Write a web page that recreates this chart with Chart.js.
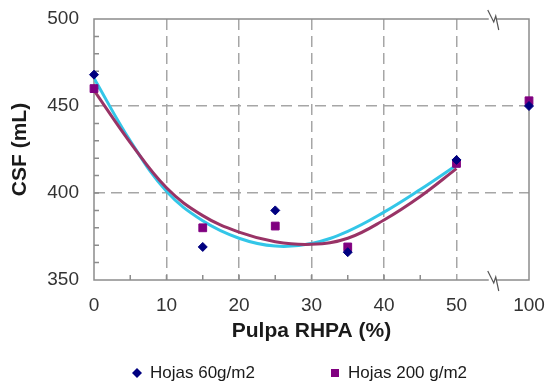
<!DOCTYPE html>
<html>
<head>
<meta charset="utf-8">
<script src="https://cdn.jsdelivr.net/npm/chart.js@4"></script>
<style>
html, body { margin: 0; padding: 0; background: #fff; }
#wrap { width: 552px; height: 384px; }
</style>
</head>
<body>
<div id="wrap"><canvas id="chart" width="552" height="384"></canvas></div>
<script>
// measured points
const pulpa = [0, 15, 25, 35, 50, 100];
const hojas60 = [468, 369, 390, 366, 419, 450];
const hojas200 = [460, 380, 381, 369, 417, 453];

// trend curves (0-50 only)
const trendX = [0, 5, 10, 15, 20, 25, 30, 35, 40, 45, 50];
const trend60 = [466, 430, 401, 384, 374, 369.5, 371, 378, 389, 402, 416];
const trend200 = [459, 429, 403, 387, 377.5, 372, 370.5, 374, 384.5, 398, 414];

const xTicks = [0, 10, 20, 30, 40, 50, 100];

// axis is broken between 50 and 100: 100 sits one step after 50
const BREAK_AT = 50;
const BREAK_POS = 60;
const axisPos = x => x > BREAK_AT ? BREAK_POS : x;

const font = "'Liberation Sans', Arial, sans-serif";
const gridGrey = "#a6a6a6";
const frameGrey = "#8c8c8c";

const pts = (xs, ys) => xs.map((x, i) => ({x: axisPos(x), y: ys[i]}));

const frame = {
  id: "frame",
  beforeDatasetsDraw(chart) {
    const {ctx, chartArea: a, scales: {x, y}} = chart;
    ctx.save();
    ctx.strokeStyle = frameGrey;
    ctx.lineWidth = 1.5;
    ctx.strokeRect(a.left, a.top, a.right - a.left, a.bottom - a.top);
    // short inside ticks
    ctx.beginPath();
    for (let v = 5; v < BREAK_AT; v += 5) {
      const px = x.getPixelForValue(v);
      ctx.moveTo(px, a.bottom);
      ctx.lineTo(px, a.bottom - 5);
    }
    for (let v = 360; v < 500; v += 10) {
      const py = y.getPixelForValue(v);
      ctx.moveTo(a.left, py);
      ctx.lineTo(a.left + 5, py);
    }
    ctx.stroke();
    // break marks on top and bottom edges
    const bx = x.getPixelForValue(55);
    [a.top, a.bottom].forEach(by => {
      ctx.fillStyle = "#fff";
      ctx.fillRect(bx - 4, by - 2, 8, 4);
      ctx.strokeStyle = "#555";
      ctx.lineWidth = 1.2;
      ctx.beginPath();
      ctx.moveTo(bx - 5, by - 9);
      ctx.lineTo(bx + 1, by + 3);
      ctx.lineTo(bx + 3, by - 3);
      ctx.lineTo(bx + 6, by + 11);
      ctx.stroke();
    });
    ctx.restore();
  },
  afterDraw(chart) {
    // legend
    const ctx = chart.ctx;
    ctx.save();
    ctx.font = "17px " + font;
    ctx.textBaseline = "middle";
    const ly = 373;
    ctx.fillStyle = "#000080";
    ctx.beginPath();
    ctx.moveTo(137, ly - 5);
    ctx.lineTo(142, ly);
    ctx.lineTo(137, ly + 5);
    ctx.lineTo(132, ly);
    ctx.closePath();
    ctx.fill();
    ctx.fillStyle = "#1a1a1a";
    ctx.fillText(chart.data.datasets[0].label, 150, ly);
    ctx.fillStyle = "#800080";
    ctx.fillRect(331, ly - 4, 8, 8);
    ctx.fillStyle = "#1a1a1a";
    ctx.fillText(chart.data.datasets[1].label, 348, ly);
    ctx.restore();
  }
};

new Chart(document.getElementById("chart"), {
  type: "scatter",
  data: {
    datasets: [
      {
        label: "Hojas 60g/m2",
        data: pts(pulpa, hojas60),
        backgroundColor: "#000080",
        borderColor: "#000080",
        pointStyle: "rectRot",
        pointRadius: 4.5,
        clip: false,
        order: 0
      },
      {
        label: "Hojas 200 g/m2",
        data: pts(pulpa, hojas200),
        backgroundColor: "#800080",
        borderColor: "#800080",
        pointStyle: "rect",
        pointRadius: 5.5,
        clip: false,
        order: 1
      },
      {
        label: "trend 60",
        type: "line",
        data: pts(trendX, trend60),
        borderColor: "#33c6e8",
        borderWidth: 3,
        pointRadius: 0,
        tension: 0.4,
        fill: false,
        order: 3
      },
      {
        label: "trend 200",
        type: "line",
        data: pts(trendX, trend200),
        borderColor: "#993366",
        borderWidth: 3,
        pointRadius: 0,
        tension: 0.4,
        fill: false,
        order: 2
      }
    ]
  },
  options: {
    responsive: false,
    animation: false,
    layout: { padding: { top: 19, right: 23, bottom: 40, left: 0 } },
    plugins: {
      legend: { display: false },
      tooltip: { enabled: false }
    },
    scales: {
      x: {
        type: "linear",
        min: 0,
        max: BREAK_POS,
        afterBuildTicks: s => { s.ticks = xTicks.map(v => ({value: axisPos(v)})); },
        afterFit: s => { s.height = 64; s.paddingLeft = 0; s.paddingRight = 0; },
        grid: {
          drawTicks: false,
          color: c => (c.tick && c.tick.value > 0 && c.tick.value <= BREAK_AT) ? gridGrey : "transparent",
          lineWidth: 1.5
        },
        border: { display: false, dash: [11, 6] },
        ticks: {
          padding: 14,
          color: "#333",
          font: { family: font, size: 19 },
          callback: v => v === BREAK_POS ? "100" : v
        },
        title: {
          display: true,
          text: "Pulpa RHPA (%)",
          color: "#1a1a1a",
          font: { family: font, size: 21, weight: "bold" },
          padding: { top: 0, bottom: 0 }
        }
      },
      y: {
        min: 350,
        max: 500,
        afterFit: s => { s.width = 94; s.paddingTop = 0; s.paddingBottom = 0; },
        grid: {
          drawTicks: false,
          color: c => (c.tick && c.tick.value > 350 && c.tick.value < 500) ? gridGrey : "transparent",
          lineWidth: 1.5
        },
        border: { display: false, dash: [11, 6] },
        ticks: {
          stepSize: 50,
          padding: 15,
          color: "#333",
          font: { family: font, size: 19 }
        },
        title: {
          display: true,
          text: "CSF (mL)",
          color: "#1a1a1a",
          font: { family: font, size: 21, weight: "bold" },
          padding: { top: 8, bottom: 0 }
        }
      }
    }
  },
  plugins: [frame]
});
</script>
</body>
</html>
